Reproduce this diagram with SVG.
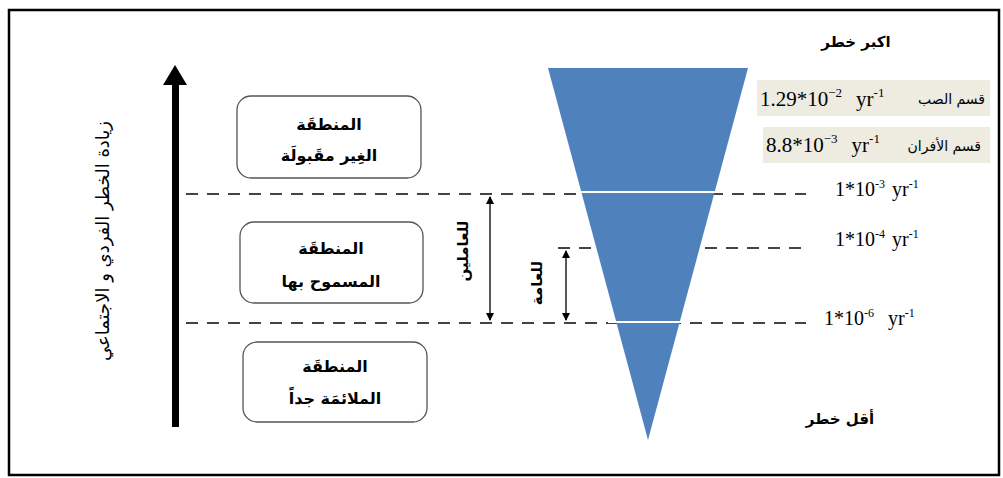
<svg xmlns="http://www.w3.org/2000/svg" width="1003" height="478" viewBox="0 0 1003 478">
<style>
.ar{font-family:"DejaVu Sans",sans-serif;fill:#000}
.arb{font-family:"DejaVu Sans",sans-serif;font-weight:bold;fill:#000}
.num{font-family:"Liberation Serif",serif;fill:#000}
.box{fill:#fff;stroke:#555;stroke-width:1.3}
.dash{stroke:#444;stroke-width:2;stroke-dasharray:12 9;fill:none}
.tag{fill:#eeebe1}
</style>
<defs>
<marker id="ah" markerWidth="8" markerHeight="8" refX="7" refY="4" orient="auto-start-reverse" markerUnits="userSpaceOnUse">
<path d="M0,0 L8,4 L0,8 Z" fill="#000"/>
</marker>
</defs>
<rect x="9" y="10" width="990" height="465" fill="#fff" stroke="#000" stroke-width="2.5"/>
<g id="axis">
<rect x="172" y="82" width="7" height="345" fill="#000"/>
<path d="M163,85 L175,65 L187,85 Z" fill="#000"/>
<text class="ar" font-size="18" transform="translate(109,241) rotate(-90)" text-anchor="middle">زيادة الخطر الفردي و الاجتماعي</text>
</g>
<g id="connectors">
<line class="dash" x1="186" y1="194" x2="806" y2="194"/>
<line class="dash" x1="558" y1="248" x2="806" y2="248"/>
<line class="dash" x1="186" y1="323" x2="806" y2="323"/>
<line x1="490" y1="197" x2="490" y2="320" stroke="#222" stroke-width="1.5" marker-start="url(#ah)" marker-end="url(#ah)"/>
<line x1="566" y1="251" x2="566" y2="320" stroke="#222" stroke-width="1.5" marker-start="url(#ah)" marker-end="url(#ah)"/>
<text class="arb" font-size="15" transform="translate(468,251) rotate(-90)" text-anchor="middle">للعاملين</text>
<text class="arb" font-size="15" transform="translate(542,283) rotate(-90)" text-anchor="middle">للعامة</text>
</g>
<g id="funnel">
<path d="M548,68 L748,68 L648,440 Z" fill="#4f81bd"/>
<line x1="575" y1="192" x2="718" y2="192" stroke="#fff" stroke-width="2"/>
<line x1="608" y1="322" x2="688" y2="322" stroke="#fff" stroke-width="2"/>
</g>
<g id="zone-unacceptable">
<rect class="box" x="237" y="96" width="184" height="82" rx="14"/>
<text class="arb" font-size="16" x="329" y="130" text-anchor="middle">المنطقَة</text>
<text class="arb" font-size="16" x="329" y="161" text-anchor="middle">الغِير مقَبولَة</text>
</g>
<g id="zone-tolerable">
<rect class="box" x="240" y="222" width="183" height="81" rx="14"/>
<text class="arb" font-size="16" x="331" y="254" text-anchor="middle">المنطقَة</text>
<text class="arb" font-size="16" x="331" y="287" text-anchor="middle">المسموح بها</text>
</g>
<g id="zone-acceptable">
<rect class="box" x="243" y="342" width="184" height="80" rx="14"/>
<text class="arb" font-size="16" x="335" y="372" text-anchor="middle">المنطقَة</text>
<text class="arb" font-size="16" x="335" y="404" text-anchor="middle">الملائمَة جداً</text>
</g>
<g id="labels">
<text class="arb" font-size="15" x="856" y="47" text-anchor="middle">اكبر خطر</text>
<text class="arb" font-size="15" x="840" y="424" text-anchor="middle">أقل خطر</text>
<rect class="tag" x="757" y="80" width="233" height="36"/>
<text class="num" font-size="21" x="760" y="106">1.29*10<tspan font-size="13" dy="-9">−2</tspan><tspan dx="14" dy="9">yr</tspan><tspan font-size="13" dy="-9">-1</tspan></text>
<text class="ar" font-size="14" x="985" y="104" text-anchor="end">قسم الصب</text>
<rect class="tag" x="763" y="127" width="227" height="36"/>
<text class="num" font-size="21" x="766" y="152">8.8*10<tspan font-size="13" dy="-9">−3</tspan><tspan dx="14" dy="9">yr</tspan><tspan font-size="13" dy="-9">-1</tspan></text>
<text class="ar" font-size="14" x="981" y="151" text-anchor="end">قسم الأفران</text>
<text class="num" font-size="20" x="835" y="196">1*10<tspan font-size="12" dy="-8">-3</tspan><tspan dx="7" dy="8">yr</tspan><tspan font-size="12" dy="-8">-1</tspan></text>
<text class="num" font-size="20" x="835" y="246">1*10<tspan font-size="12" dy="-8">-4</tspan><tspan dx="7" dy="8">yr</tspan><tspan font-size="12" dy="-8">-1</tspan></text>
<text class="num" font-size="20" x="824" y="325">1*10<tspan font-size="12" dy="-8">-6</tspan><tspan dx="14" dy="8">yr</tspan><tspan font-size="12" dy="-8">-1</tspan></text>
</g>
</svg>
